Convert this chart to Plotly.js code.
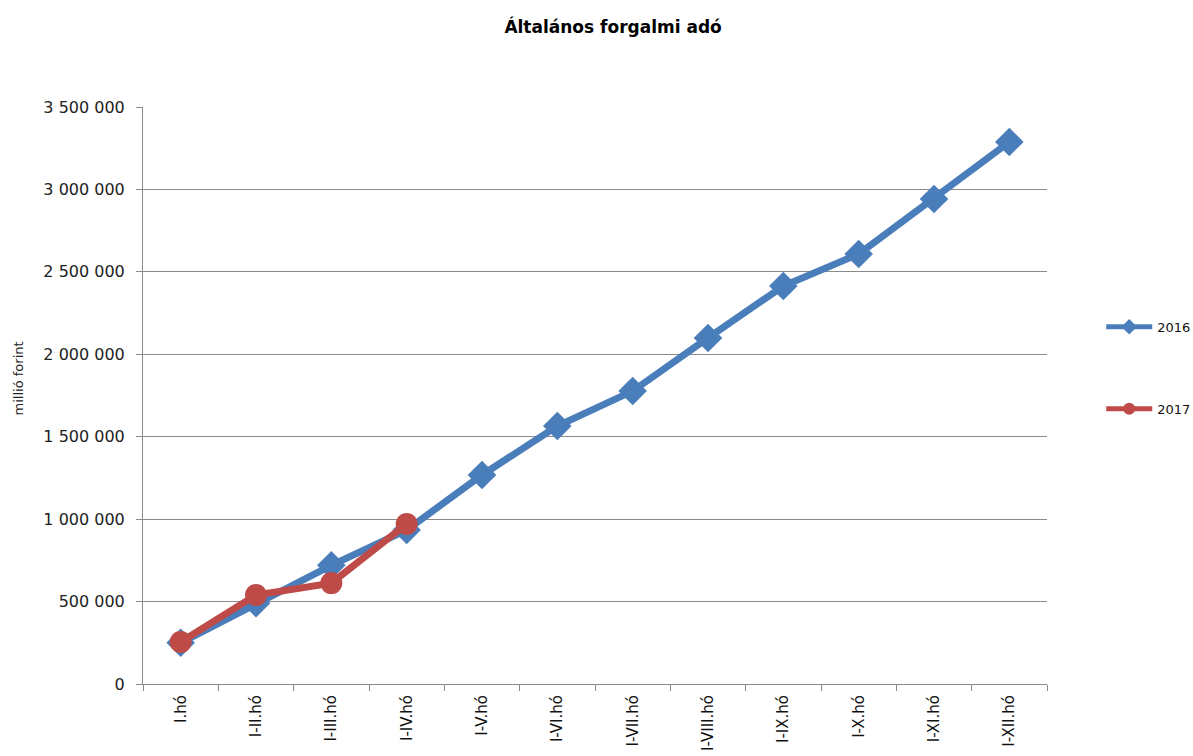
<!DOCTYPE html>
<html>
<head>
<meta charset="utf-8">
<script src="https://cdn.plot.ly/plotly-3.0.1.min.js"></script>
<style>html,body{margin:0;padding:0;background:#fff;}#chart{width:1193px;height:756px;}</style>
</head>
<body>
<div id="chart"></div>
<script>
const categories = ["I.hó","I-II.hó","I-III.hó","I-IV.hó","I-V.hó","I-VI.hó","I-VII.hó","I-VIII.hó","I-IX.hó","I-X.hó","I-XI.hó","I-XII.hó"];
const values2016 = [250000, 490000, 720000, 934000, 1268000, 1565000, 1777000, 2099000, 2414000, 2608000, 2942000, 3288000];
const values2017 = [255000, 540000, 612000, 970000];
const seriesNames = ["2016", "2017"];
const yTickVals = [0, 500000, 1000000, 1500000, 2000000, 2500000, 3000000, 3500000];
const yTitle = "millió forint";

const traces = [
  {
    x: categories, y: values2016, name: seriesNames[0], type: "scatter", mode: "lines+markers",
    line: {color: "#4A7EBB", width: 7},
    marker: {symbol: "diamond", size: 22, color: "#4A7EBB"},
    legendgroup: "a"
  },
  {
    x: categories.slice(0, values2017.length), y: values2017, name: seriesNames[1], type: "scatter", mode: "lines+markers",
    line: {color: "#BE4B48", width: 7},
    marker: {symbol: "circle", size: 22, color: "#BE4B48"},
    legendgroup: "b"
  }
];

const layout = {
  width: 1193, height: 756,
  margin: {l: 143, r: 146, t: 107, b: 72, autoexpand: false},
  paper_bgcolor: "#fff", plot_bgcolor: "#fff",
  separators: ", ",
  font: {family: "DejaVu Sans, sans-serif", size: 14, color: "#000"},
  title: {text: "<b>Általános forgalmi adó</b>", x: 0.52, xref: "paper", y: 0.964, yanchor: "middle",
          font: {family: "DejaVu Sans, sans-serif", size: 17, color: "#000"}},
  xaxis: {
    type: "category", tickson: "boundaries", ticks: "outside", ticklen: 6, tickcolor: "#888",
    showline: true, linecolor: "#888", linewidth: 1, showgrid: false, tickangle: -90,
    tickfont: {family: "DejaVu Sans, sans-serif", size: 15, color: "#111"}, fixedrange: true,
    range: [-0.5, 11.5], ticklabelstandoff: 4, automargin: false
  },
  yaxis: {
    range: [0, 3500000], tickvals: yTickVals, tickformat: ",d", ticks: "outside", ticklen: 6, tickcolor: "#888",
    showline: true, linecolor: "#888", linewidth: 1, showgrid: true, gridcolor: "#8a8a8a", gridwidth: 1,
    zeroline: false, ticklabelstandoff: 8, automargin: false,
    tickfont: {family: "DejaVu Sans, sans-serif", size: 16, color: "#222"}
  },
  annotations: [{
    text: yTitle, textangle: -90, xref: "paper", yref: "paper", x: -0.138, y: 0.53,
    xanchor: "center", yanchor: "middle", showarrow: false,
    font: {family: "DejaVu Sans, sans-serif", size: 13, color: "#222"}
  }],
  legend: {x: 1.06, xanchor: "left", y: 0.645, yanchor: "top", traceorder: "grouped", tracegroupgap: 62,
           itemsizing: "constant",
           font: {family: "DejaVu Sans, sans-serif", size: 13, color: "#111"}, itemwidth: 46},
  showlegend: true
};

Plotly.newPlot("chart", traces, layout, {displayModeBar: false, staticPlot: true});
</script>
</body>
</html>
